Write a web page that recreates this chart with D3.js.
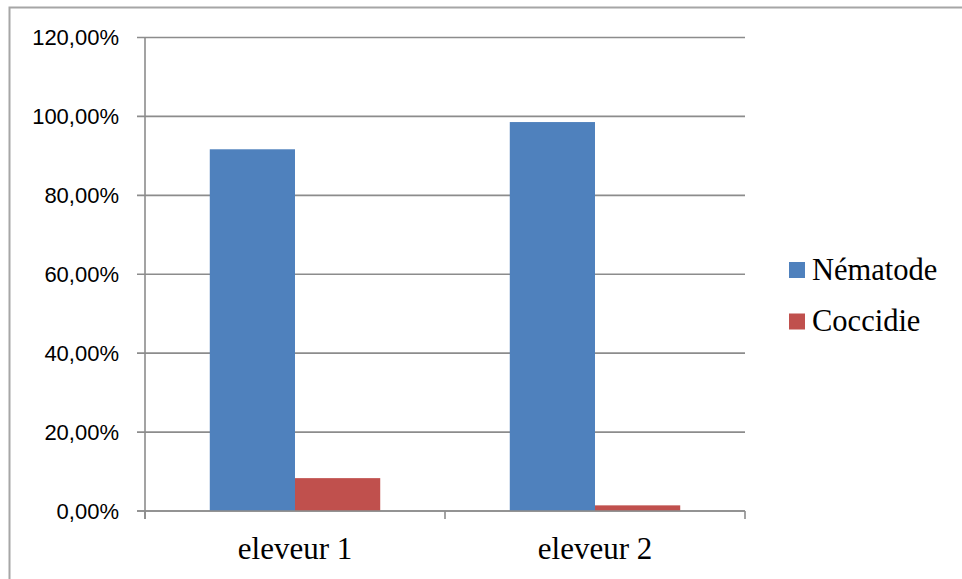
<!DOCTYPE html>
<html>
<head>
<meta charset="utf-8">
<script src="https://cdn.jsdelivr.net/npm/d3@7/dist/d3.min.js"></script>
<style>
  html, body { margin: 0; padding: 0; background: #fff; }
  svg { display: block; }
</style>
</head>
<body>
<svg id="chart" width="962" height="579"></svg>
<script>
// Farms on the x axis, parasite groups as series (share of positive samples)
const categories = ["eleveur 1", "eleveur 2"];
const seriesNames = ["Nématode", "Coccidie"];
const nematode = [0.9167, 0.9857];
const coccidie = [0.0833, 0.0143];
const yTicks = [0, 0.2, 0.4, 0.6, 0.8, 1.0, 1.2];
const colors = ["#4f81bd", "#c0504d"];

const seriesValues = [nematode, coccidie];

const svg = d3.select("#chart");
const gridColor = "#8c8c8c";

// outer frame
svg.append("rect")
  .attr("x", 9.5).attr("y", 7.5)
  .attr("width", 1000).attr("height", 1000)
  .attr("fill", "none").attr("stroke", "#a6a6a6").attr("stroke-width", 2);

const plotLeft = 145, plotRight = 745, plotTop = 37.5, plotBottom = 511;

const x = d3.scaleBand().domain(categories).range([plotLeft, plotRight]).paddingInner(0).paddingOuter(0);
const xSub = d3.scaleBand().domain(seriesNames).range([0, x.bandwidth()]).paddingInner(0).paddingOuter(0.76);
const y = d3.scaleLinear().domain([0, 1.2]).range([plotBottom, plotTop]);

const fmt = v => d3.format(".2f")(v * 100).replace(".", ",") + "%";

// horizontal gridlines
svg.append("g").selectAll("line").data(yTicks).join("line")
  .attr("x1", plotLeft - 8).attr("x2", plotRight)
  .attr("y1", d => y(d)).attr("y2", d => y(d))
  .attr("stroke", gridColor).attr("stroke-width", 1.6);

// y axis line
svg.append("line")
  .attr("x1", plotLeft).attr("x2", plotLeft).attr("y1", plotTop).attr("y2", plotBottom + 8)
  .attr("stroke", gridColor).attr("stroke-width", 1.6);

// x axis category ticks
const xBounds = [plotLeft].concat(categories.map(c => x(c) + x.bandwidth()));
svg.append("g").selectAll("line").data(xBounds).join("line")
  .attr("x1", d => d).attr("x2", d => d).attr("y1", plotBottom).attr("y2", plotBottom + 8)
  .attr("stroke", gridColor).attr("stroke-width", 1.6);

// y tick labels
svg.append("g").selectAll("text").data(yTicks).join("text")
  .attr("x", 119).attr("y", d => y(d))
  .attr("dy", "0.36em")
  .attr("text-anchor", "end")
  .attr("font-family", "'Liberation Sans', Arial, sans-serif")
  .attr("font-size", 22)
  .attr("fill", "#000")
  .text(fmt);

// bars
const groups = svg.append("g").selectAll("g").data(categories).join("g")
  .attr("transform", d => `translate(${x(d)},0)`);
groups.selectAll("rect")
  .data((c, i) => seriesNames.map((s, k) => ({ s, k, v: seriesValues[k][i] })))
  .join("rect")
  .attr("x", d => xSub(d.s))
  .attr("width", xSub.bandwidth())
  .attr("y", d => y(d.v))
  .attr("height", d => y(0) - y(d.v))
  .attr("fill", d => colors[d.k]);

// redraw zero line over bars
svg.append("line")
  .attr("x1", plotLeft - 8).attr("x2", plotRight).attr("y1", y(0)).attr("y2", y(0))
  .attr("stroke", gridColor).attr("stroke-width", 1.6);

// category labels
svg.append("g").selectAll("text").data(categories).join("text")
  .attr("x", d => x(d) + x.bandwidth() / 2)
  .attr("y", 559)
  .attr("text-anchor", "middle")
  .attr("font-family", "'Liberation Serif', 'Times New Roman', serif")
  .attr("font-size", 31)
  .attr("fill", "#000")
  .text(d => d);

// legend
const legend = svg.append("g").selectAll("g").data(seriesNames).join("g")
  .attr("transform", (d, i) => `translate(789, ${262 + i * 51.5})`);
legend.append("rect")
  .attr("width", 16).attr("height", 16)
  .attr("fill", (d, i) => colors[i]);
legend.append("text")
  .attr("x", 23).attr("y", 17.5)
  .attr("font-family", "'Liberation Serif', 'Times New Roman', serif")
  .attr("font-size", 30.5)
  .attr("fill", "#000")
  .text(d => d);
</script>
</body>
</html>
